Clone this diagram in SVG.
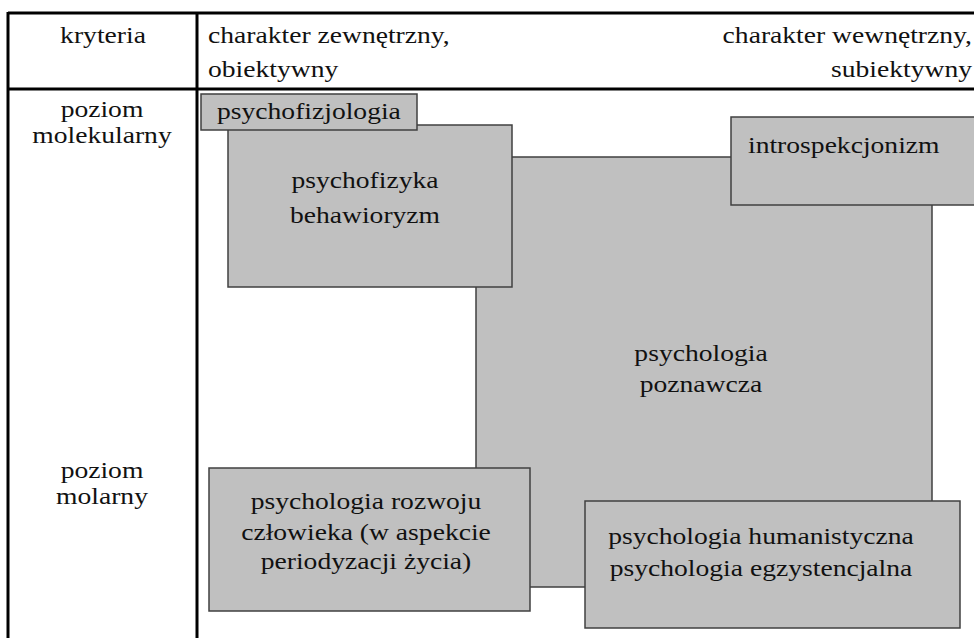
<svg xmlns="http://www.w3.org/2000/svg" width="974" height="638" viewBox="0 0 974 638">
<style>
.box{fill:#c0c0c0;stroke:#404040;stroke-width:1.5}
.grid{stroke:#000;stroke-width:3;fill:none}
text{font-family:"Liberation Serif","Times New Roman",serif;font-size:23px;fill:#111}
.m{text-anchor:middle}
.e{text-anchor:end}
</style>
<rect width="974" height="638" fill="#fff"/>
<g id="table">
<line class="grid" x1="8" y1="13" x2="974" y2="13"/>
<line class="grid" x1="8" y1="89" x2="974" y2="89"/>
<line class="grid" x1="8" y1="12" x2="8" y2="638"/>
<line class="grid" x1="197" y1="12" x2="197" y2="638"/>
<text class="m" transform="translate(103,43) scale(1.2,1)">kryteria</text>
<text transform="translate(208,43) scale(1.2,1)">charakter zewnętrzny,</text>
<text transform="translate(208,77) scale(1.2,1)">obiektywny</text>
<text class="e" transform="translate(972,43) scale(1.2,1)">charakter wewnętrzny,</text>
<text class="e" transform="translate(972,77) scale(1.2,1)">subiektywny</text>
<text class="m" transform="translate(102,117) scale(1.2,1)">poziom</text>
<text class="m" transform="translate(102,143) scale(1.2,1)">molekularny</text>
<text class="m" transform="translate(102,478) scale(1.2,1)">poziom</text>
<text class="m" transform="translate(102,504) scale(1.2,1)">molarny</text>
</g>
<g id="poznawcza">
<rect class="box" x="476" y="157" width="456" height="430"/>
<text class="m" transform="translate(701,361) scale(1.2,1)">psychologia</text>
<text class="m" transform="translate(701,392) scale(1.2,1)">poznawcza</text>
</g>
<g id="psychofizyka">
<rect class="box" x="228" y="125" width="284" height="162"/>
<text class="m" transform="translate(365,188) scale(1.2,1)">psychofizyka</text>
<text class="m" transform="translate(365,223) scale(1.2,1)">behawioryzm</text>
</g>
<g id="psychofizjologia">
<rect class="box" x="201" y="94" width="216" height="36"/>
<text transform="translate(217,119) scale(1.2,1)">psychofizjologia</text>
</g>
<g id="introspekcjonizm">
<rect class="box" x="731" y="117" width="250" height="88"/>
<text transform="translate(748,153) scale(1.2,1)">introspekcjonizm</text>
</g>
<g id="rozwoju">
<rect class="box" x="209" y="468" width="321" height="143"/>
<text class="m" transform="translate(366,509) scale(1.2,1)">psychologia rozwoju</text>
<text class="m" transform="translate(366,540) scale(1.2,1)">człowieka (w aspekcie</text>
<text class="m" transform="translate(366,569) scale(1.2,1)">periodyzacji życia)</text>
</g>
<g id="humanistyczna">
<rect class="box" x="585" y="501" width="375" height="127"/>
<text class="m" transform="translate(761,544) scale(1.2,1)">psychologia humanistyczna</text>
<text class="m" transform="translate(761,576) scale(1.2,1)">psychologia egzystencjalna</text>
</g>
<g id="connectors"/>
</svg>
